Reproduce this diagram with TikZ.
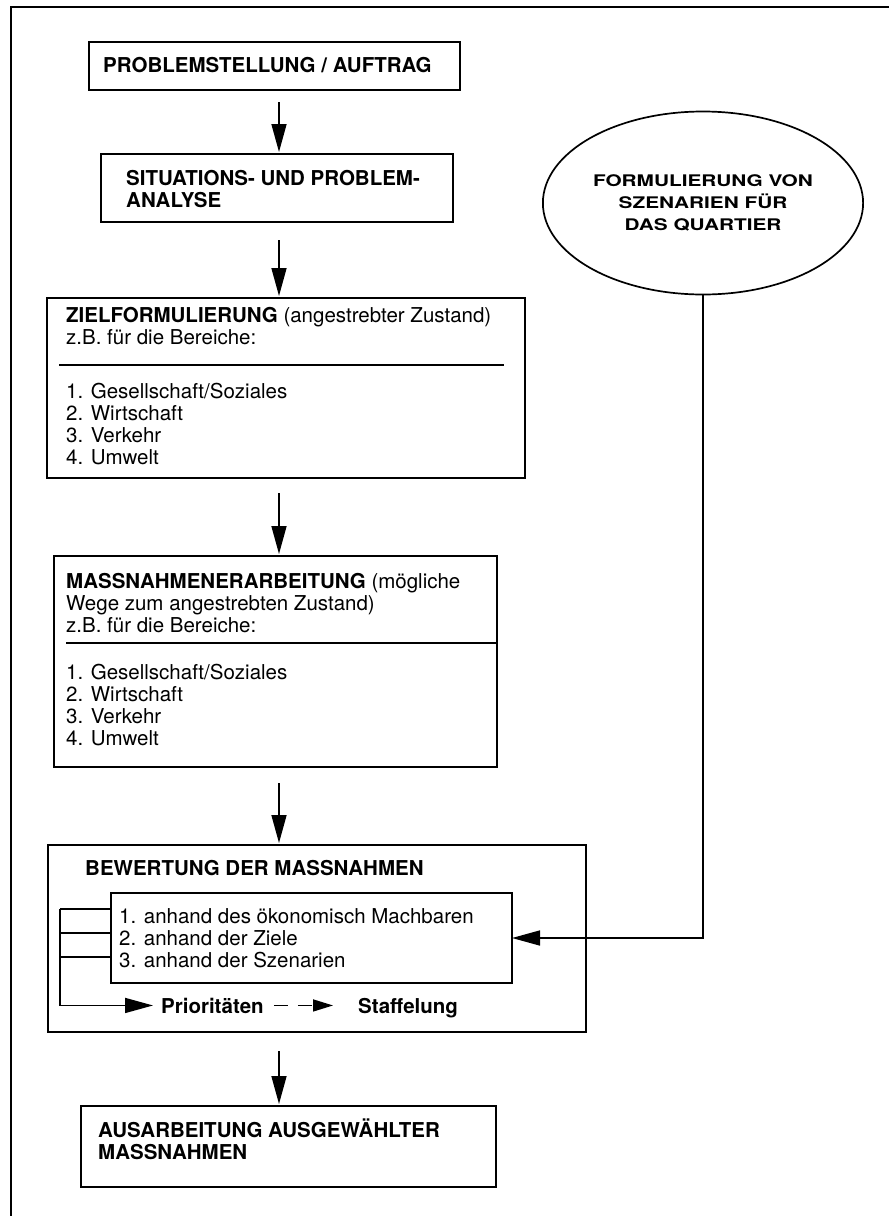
\documentclass[tikz,border=0pt]{standalone}
\usepackage{fontspec}
\setmainfont{TeX Gyre Heros}
\newfontfamily\widefont[FakeStretch=1.3]{TeX Gyre Heros}
\usetikzlibrary{positioning,shapes,arrows.meta}
\tikzstyle{box}=[draw,rectangle,anchor=north west,inner sep=0pt,outer sep=0pt,line width=1.7pt]
\tikzstyle{txt}=[anchor=base west,inner sep=0pt,align=left]
\tikzstyle{flow}=[-{Triangle[length=28pt,width=15pt]},line width=1.6pt]
\tikzstyle{dashflow}=[-{Triangle[length=20pt,width=12pt]},line width=1.6pt,dash pattern=on 14pt off 10pt]
% text nodes sit on the baseline of their last line
\newcommand{\newBox}[5]{\node[box,minimum width=#4pt,minimum height=#5pt](#1) at (#2,-#3){};}
\newcommand{\newText}[4]{\node[txt](#1) at (#2,-#3){#4};}
\begin{document}
\begin{tikzpicture}[x=1pt,y=1pt,
      font=\fontsize{20.5}{22}\selectfont,
      shorten <=12pt,shorten >=2pt
      ]
      \useasboundingbox (0,0) rectangle (889,-1216);
      \draw[line width=1.5pt,shorten <=0pt,shorten >=0pt] (889,-7) -- (11,-7) -- (11,-1216);
      % boxes of the main chain
      \newBox{auftrag}{89}{42}{371}{48}
      \newBox{analyse}{101}{154}{352}{68}
      \newBox{ziele}{47}{298}{478}{180}
      \newBox{massn}{54}{556}{443}{211}
      \newBox{bewert}{48}{845}{538}{187}
      \newBox{krit}{111}{893}{401}{90}
      \newBox{ausarb}{81}{1106}{415}{81}
      \node[draw,ellipse,line width=1.7pt,minimum width=300pt,minimum height=183pt,
        align=center,font=\widefont\bfseries\fontsize{16}{22}\selectfont](szen) at (703,-203)
        {FORMULIERUNG VON\\SZENARIEN FÜR\\DAS QUARTIER};
      \draw[line width=1.7pt] (47,-365) -- (506,-365);
      \draw[line width=1.7pt] (54,-643) -- (499,-643);
      % texts
      \newText{tauftrag}{103}{72}{\bfseries PROBLEMSTELLUNG / AUFTRAG}
      \newText{tanalyse}{126}{207}{\bfseries SITUATIONS- UND PROBLEM-\\\bfseries ANALYSE}
      \newText{tziele}{66}{344}{\textbf{ZIELFORMULIERUNG} (angestrebter Zustand)\\z.B. für die Bereiche:}
      \newText{lziele}{66}{464}{1. Gesellschaft/Soziales\\2. Wirtschaft\\3. Verkehr\\4. Umwelt}
      \newText{tmassn}{66}{632}{\textbf{MASSNAHMENERARBEITUNG} (mögliche\\Wege zum angestrebten Zustand)\\z.B. für die Bereiche:}
      \newText{lmassn}{66}{745}{1. Gesellschaft/Soziales\\2. Wirtschaft\\3. Verkehr\\4. Umwelt}
      \newText{tbewert}{85}{875}{\bfseries BEWERTUNG DER MASSNAHMEN}
      \newText{tkrit}{119}{967}{1. anhand des ökonomisch Machbaren\\2. anhand der Ziele\\3. anhand der Szenarien}
      \newText{prio}{161}{1013}{\bfseries Prioritäten}
      \newText{staff}{358}{1013}{\bfseries Staffelung}
      \newText{tausarb}{98}{1159}{\bfseries AUSARBEITUNG AUSGEWÄHLTER\\\bfseries MASSNAHMEN}
      % connectors
      \coordinate (ax) at (279,0);
      \coordinate (k1) at (60,-909);
      \coordinate (k2) at (60,-933);
      \coordinate (k3) at (60,-957);
      \draw[flow] (auftrag.south -| ax) -- (analyse.north -| ax);
      \draw[flow,shorten <=18pt] (analyse.south -| ax) -- (ziele.north -| ax);
      \draw[flow,shorten <=15pt] (ziele.south -| ax) -- (massn.north -| ax);
      \draw[flow,shorten <=16pt] (massn.south -| ax) -- (bewert.north -| ax);
      \draw[flow,shorten <=19pt] (bewert.south -| ax) -- (ausarb.north -| ax);
      \draw[flow,shorten <=0pt,shorten >=0pt] (szen.south) |- (krit.east);
      \draw[line width=1.6pt,shorten <=0pt,shorten >=0pt] (krit.west |- k1) -- (k1);
      \draw[line width=1.6pt,shorten <=0pt,shorten >=0pt] (krit.west |- k2) -- (k2);
      \draw[line width=1.6pt,shorten <=0pt,shorten >=0pt] (krit.west |- k3) -- (k3);
      \draw[flow,shorten <=0pt,shorten >=8pt] (k1) |- (prio.west);
      \draw[dashflow,shorten <=10pt,shorten >=25pt] (prio.east) -- (prio.east -| staff.west);
    \end{tikzpicture}
\end{document}
